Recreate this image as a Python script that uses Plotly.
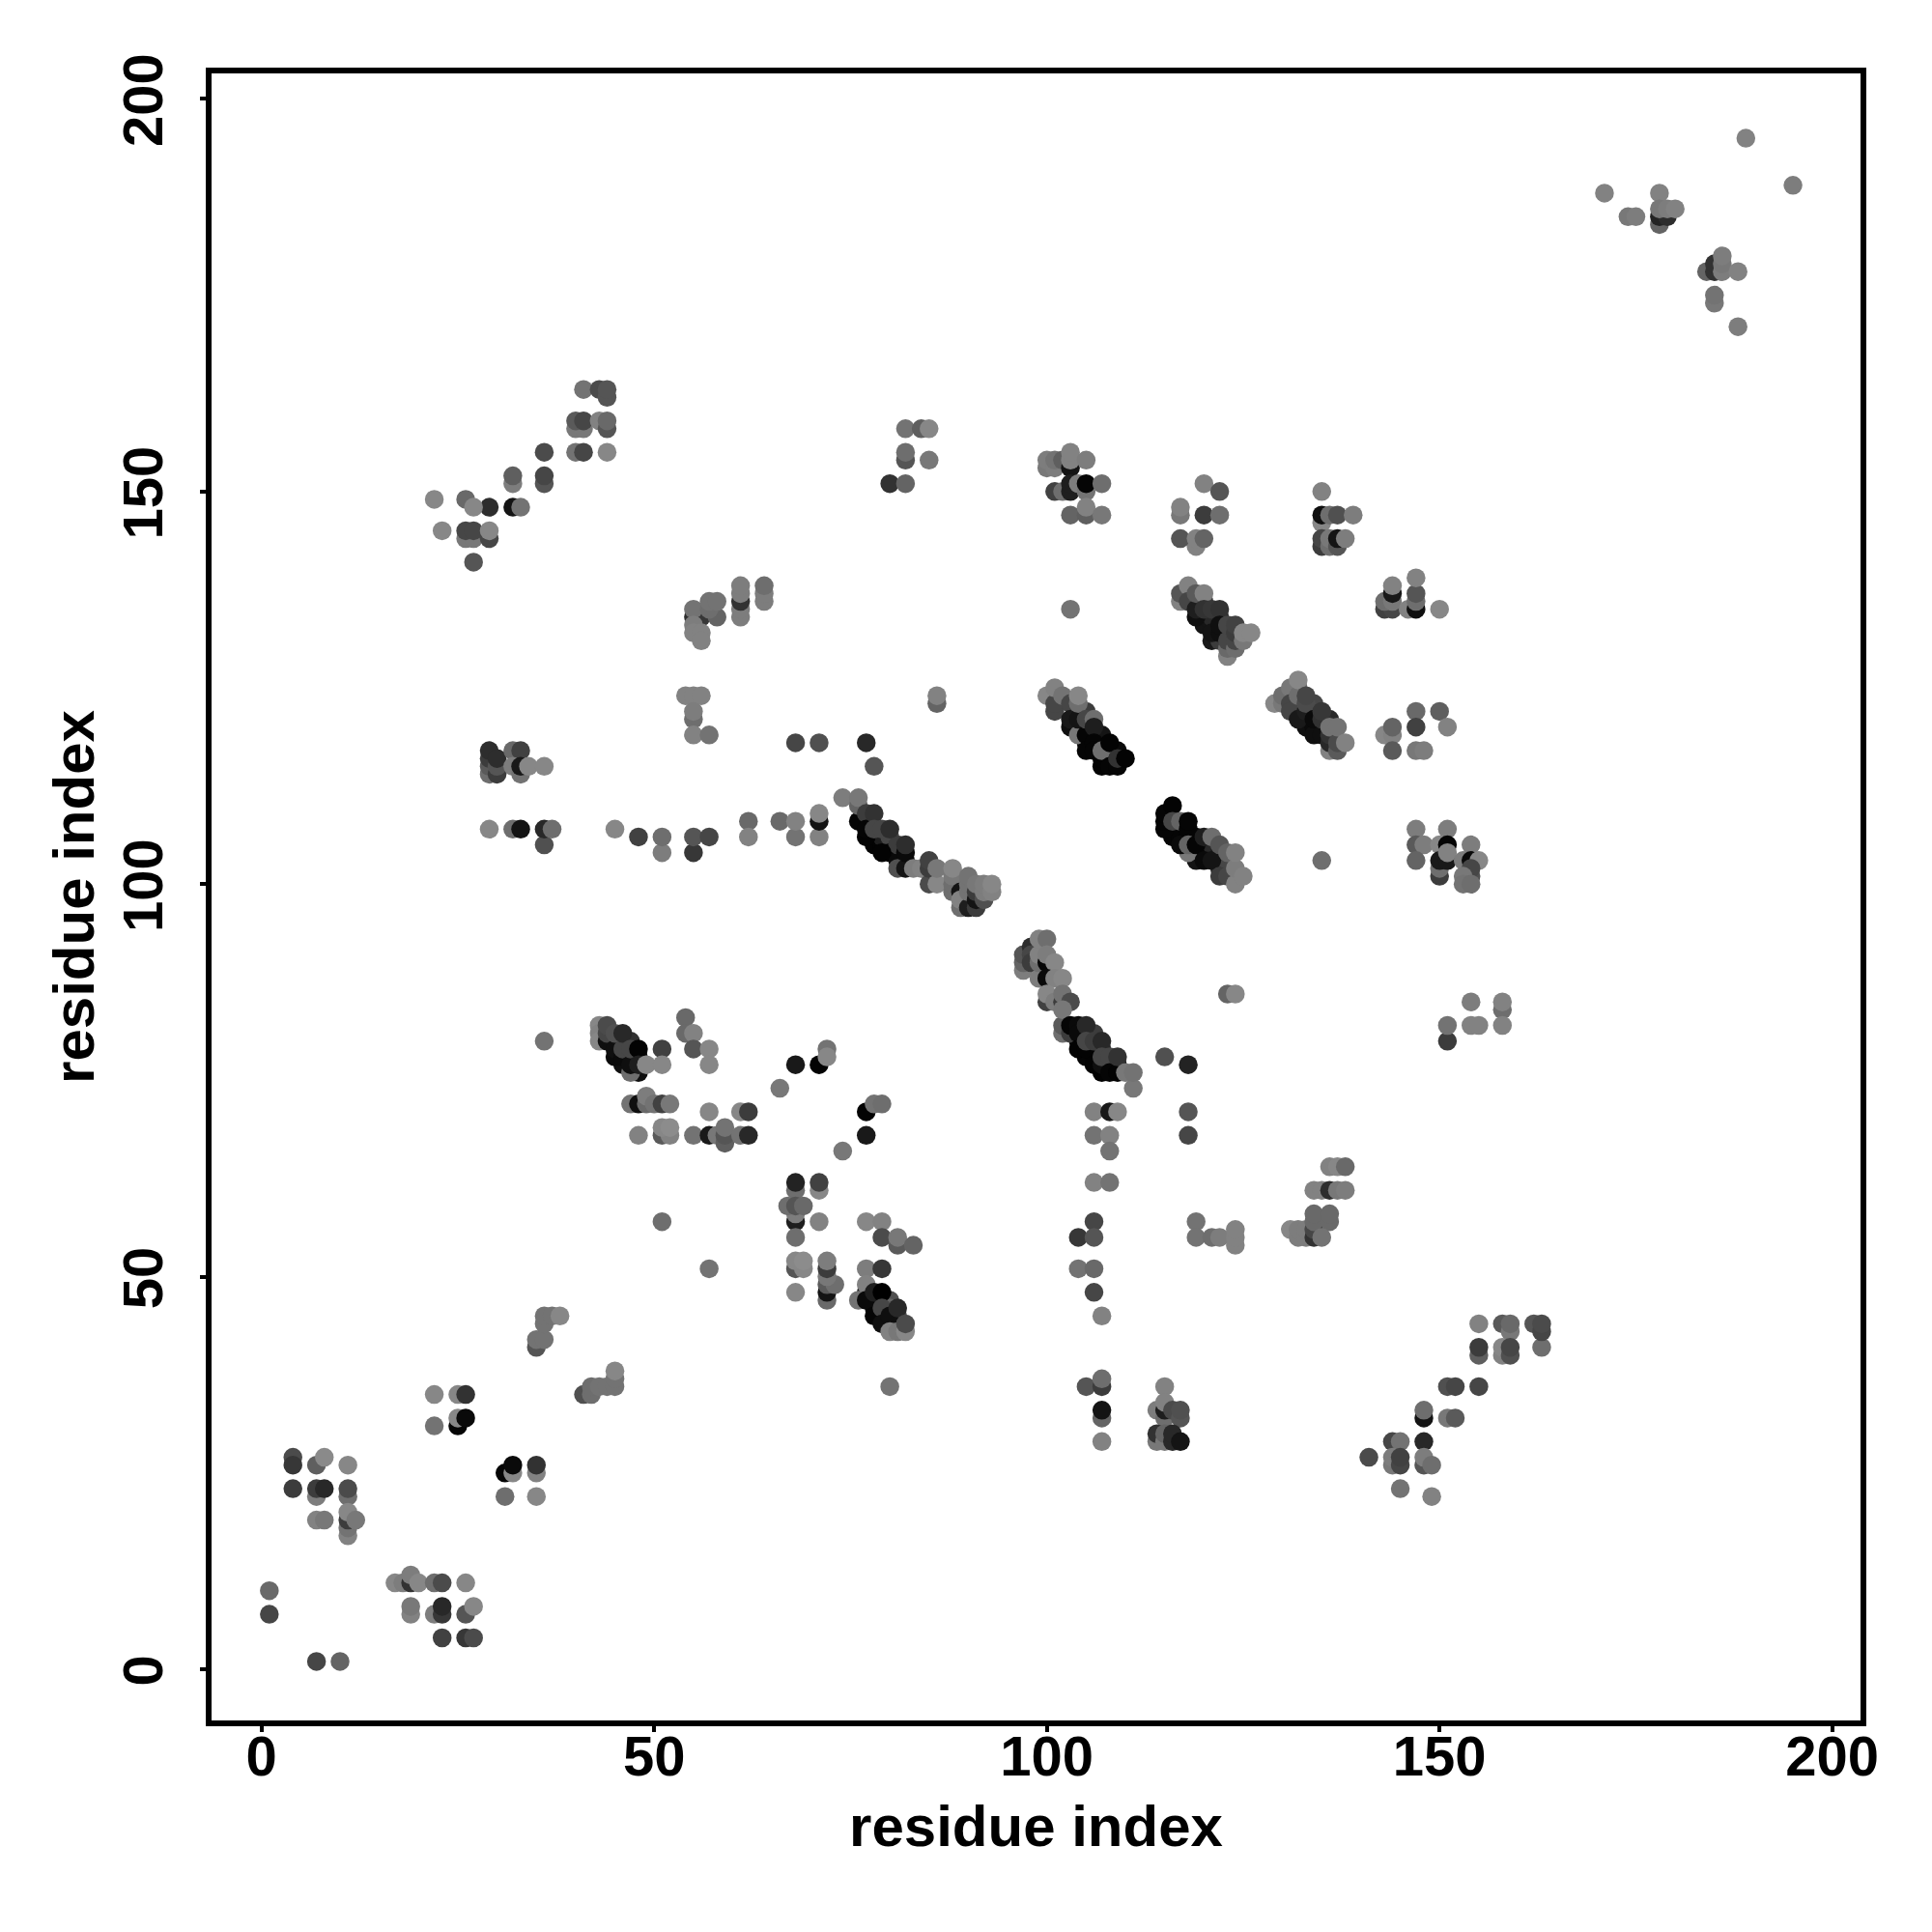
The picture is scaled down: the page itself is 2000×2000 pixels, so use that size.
import plotly.graph_objects as go

# (residue i, residue j, shade), in drawing order
band_under = [(77,108,5),(78,106,3),(78,105,3),(79,105,3),(79,106,30),(80,105,30),(80,106,70),(80,104,3),(81,104,5),(81,103,10),(81,105,60),(82,103,10),
(116,107,5),(116,106,5),(117,107,5),(117,106,5),(118,106,5),(119,106,10),(119,104,5),(120,105,5),(120,104,10),(121,104,10),(121,105,40),(122,104,30),(122,103,40),(122,102,40),(123,102,60),(123,103,70),(119,103,20),
(120,134,15),(120,133,20),(121,133,20),(120,136,60),(121,134,40),(122,134,40),(123,132,30),(121,131,25),(122,131,60),
(104,120,10),(105,120,10),(104,122,50),(105,122,60),(105,118,5),(106,119,5),(107,118,5),(107,119,20),(108,117,5),(108,116,5),(109,117,10),
(132,122,15),(132,123,50),(133,121,10),(133,120,15),(134,120,10),(134,122,40),(135,120,20),(136,121,40),(132,125,110),(131,124,90),(134,123,70),
(104,80,5),(105,78,5),(106,78,5),(106,79,10),(107,79,40),(107,76,3),(108,77,5),(109,77,20),(105,81,30),(106,81,60),
(77,48,20),(78,46,10),(78,47,10),(79,47,10),(79,45,10),(80,44,15),(81,44,50),(81,45,70),(80,47,80),
(45,80,20),(46,80,15),(47,78,15),(46,77,15),(48,78,15),(47,80,50),(48,76,15)]

low_left = [(1,10,105),(1,7,70),(7,1,70),(10,1,100),
(4,27,75),(4,26,55),(4,23,60),(7,26,95),(8,27,138),(11,26,135),(7,22,125),(7,23,60),(8,23,40),(11,22,110),(11,23,75),
(7,19,130),(8,19,120),(11,17,130),(11,18,115),(11,19,60),(11,20,135),(12,19,120),
(17,11,135),(18,11,125),(19,11,50),(19,12,125),(20,11,135),(22,11,110),(23,11,75),(26,11,135),
(19,7,130),(19,8,120),(22,7,125),(23,7,55),(23,8,40),(26,7,85),(27,8,135),(23,4,65),(26,4,55),(27,4,75),
(22,35,135),(25,35,135),(26,35,50),(22,31,115),(25,31,5),(25,32,135),(26,32,10),
(31,25,5),(32,25,135),(32,26,10),(31,22,110),(35,25,130),(35,26,50),(35,22,135),
(35,41,85),(35,42,115),(36,42,115),(36,44,115),(36,45,115),(37,45,115),(38,45,135),
(41,35,80),(42,35,110),(42,36,110),(43,36,115),(44,36,115),(45,36,115),(45,37,115),(45,38,135)]

mid_left = [(36,80,115),(43,82,135),(43,81,130),(43,80,135),(44,80,15),(44,81,70),(44,82,75),(45,78,10),(45,79,15),(45,81,80),
(47,76,110),(46,78,10),(46,79,70),(46,81,40),(47,77,15),(47,79,70),(48,79,3),(48,77,30),(49,77,135),(51,79,65),(51,77,135),
(54,83,105),(54,81,105),(55,81,130),(55,79,85),(57,79,135),(57,77,135),
(68,77,25),(71,77,3),(72,79,115),(72,78,135),(66,74,120),
(47,72,115),(48,72,15),(49,72,105),(49,73,125),(50,72,115),(51,72,65),(52,72,120),(57,71,135),(61,71,135),(62,71,60),
(48,68,130),(51,68,90),(52,68,130),(51,69,135),(52,69,140),(55,68,115),(57,68,25),(58,68,120),(59,67,95),(59,68,85),(59,69,115),(61,68,115),(62,68,40),
(74,66,120),(68,61,110),(68,62,35),(71,61,135),(71,62,65),(68,57,30),(68,58,125),(67,59,110),(68,59,85),(69,59,105),(68,55,110),(71,57,130),(57,51,115),(51,57,110),
(68,51,85),(69,51,135),(68,52,135),(69,52,140),(72,47,105),(72,48,20),(72,49,90),(73,49,110),(72,50,120),(72,51,60),(72,52,125),(68,48,135)]

lower_mid = [(77,71,3),(78,72,115),(79,72,110),(77,68,25),(77,57,135),(79,57,130),(79,55,75),(81,54,90),(81,55,120),(83,54,100),
(77,51,125),(79,51,55),(77,49,130),(76,47,115),(77,47,10),(80,46,100),(78,48,30),(79,48,0),(78,45,5),(79,46,70),(79,44,15),(80,45,15),
(80,43,130),(81,43,120),(82,43,135),(81,46,40),(82,44,75),(80,36,115),
(105,36,85),(107,36,60),(107,37,110),(107,32,100),(107,33,20),(107,29,130),(115,36,130),(114,33,125),(115,32,110),(115,33,30),(115,34,130),(116,33,75),(117,32,85),(117,33,80),
(114,29,120),(114,30,50),(115,29,120),(115,30,100),(116,29,40),(116,30,40),(117,29,20)]

center_diag = [(97,89,125),(97,90,100),(97,91,85),(98,92,45),(98,91,70),(98,90,60),(99,88,125),(99,90,110),(99,91,130),(99,93,130),(100,93,110),(100,90,5),(100,91,125),(101,90,135),(100,88,10),(101,88,130),(102,88,135),
(100,85,65),(100,86,135),(101,85,125),(102,85,60),(102,86,115),(103,85,75),(102,81,110),(102,82,90),(102,84,120),
(103,81,60),(103,82,5),(104,82,10),(104,81,10),(105,82,40),(104,79,3),(105,79,3),(105,80,70),(106,80,60),(107,80,40),(106,77,3),(107,77,15),(107,78,70),(108,78,70),(108,76,5),(109,76,3),(109,78,50),(111,74,120),(110,76,120),(111,76,115),
(115,78,80),(118,77,35),(106,71,130),(108,71,25),(109,71,135),(106,68,115),(108,68,130),(108,66,115),(106,62,130),(108,62,115),(118,71,85),(118,68,70),
(106,57,70),(104,55,55),(106,55,85),(104,51,115),(106,51,105),(106,48,70),(107,45,130),
(119,57,115),(119,55,115),(121,55,110),(122,55,125),(124,54,130),(124,55,130),(124,56,130),(123,86,100),(124,86,135)]

diag_a = [(117,136,130),(117,137,85),(118,138,130),(118,136,70),(119,134,15),(119,135,30),(119,137,90),(120,137,130),(120,135,50),(121,135,55),(122,135,50),(121,132,20),(122,132,15),(122,133,15),
(123,129,130),(123,130,105),(123,131,70),(123,133,70),(124,130,110),(124,131,70),(124,132,60),(124,133,65),(125,131,120),(125,132,135),(126,132,135)]

diag_b = [(100,124,135),(101,122,70),(101,123,70),(101,125,130),(102,124,115),(103,123,70),(103,120,15),(103,121,25),(104,119,120),(104,121,20),(104,123,110),(104,124,135),(105,119,5),(105,117,5),(105,121,70),(106,121,110),(106,120,30),(106,118,5),(106,117,5),
(107,115,3),(107,116,3),(107,117,110),(108,118,3),(108,115,5),(109,115,5),(109,116,50),(110,116,3)]

diag_c = [(129,123,135),(130,123,120),(130,124,110),(131,125,120),(131,123,70),(131,122,70),(132,121,25),(132,124,110),(132,126,135),(133,122,30),(133,123,75),(133,124,70),(134,119,15),(134,121,10),(135,119,15),(135,121,50),(135,122,55),
(136,117,130),(136,118,40),(136,119,50),(136,120,115),(137,117,90),(137,118,75),(137,120,115),(138,118,130)]

diag_d = [(115,107,5),(115,108,5),(115,109,5),(116,110,3),(116,108,70),(117,108,100),(118,104,120),(117,105,10),(118,107,5),(118,108,5),(118,105,100),(119,105,5),(120,103,10),(121,103,20),(120,106,30),(121,106,110),(122,101,60),(122,105,85),
(123,101,70),(123,104,100),(124,100,130),(124,102,125),(124,104,130),(125,101,130)]

right_blocks = [(143,135,65),(144,135,70),(143,136,110),(144,136,120),(144,137,25),(144,138,130),(146,135,130),(147,135,15),(147,136,110),(147,137,85),(147,139,130),(150,135,135),
(147,122,105),(150,122,95),(143,119,135),(144,119,130),(144,120,100),(147,120,65),(151,120,130),(144,117,90),(147,117,120),(148,117,125),
(147,107,125),(151,107,125),(147,105,90),(148,105,125),(150,105,135),(151,105,5),(154,105,125),(147,103,100),(150,101,60),(150,102,110),(150,103,25),(151,103,25),(151,104,130),
(153,103,125),(154,103,10),(155,103,135),(154,101,80),(154,102,70),(153,101,120),(153,100,115),(154,100,110),(135,103,110),
(151,80,60),(151,82,115),(154,85,125),(154,82,130),(155,82,130),(158,84,110),(158,82,130),(158,85,130)]

upper_mid = [(100,153,120),(100,154,125),(101,153,125),(101,154,115),(102,154,95),(103,153,20),(103,154,130),(103,155,130),(105,154,125),
(101,150,65),(102,150,110),(103,150,30),(103,151,30),(104,151,125),(105,150,115),(105,151,5),(107,151,110),(103,147,100),(105,147,95),(105,148,130),(107,147,120),
(120,151,130),(122,150,85),(117,147,120),(117,148,130),(120,147,60),(122,147,110),(119,143,130),(117,144,85),(119,144,130),(120,144,100),
(135,150,130),(135,146,135),(135,147,15),(136,147,110),(137,147,80),(139,147,125),(135,143,60),(135,144,70),(136,143,110),(136,144,120),(137,143,85),(137,144,20),(138,144,125),(103,135,115)]

upper_left = [(41,163,115),(43,163,75),(44,162,85),(44,163,85),(40,158,120),(41,158,120),(40,159,90),(41,159,70),(43,159,130),(44,158,85),(44,159,105),(40,155,115),(41,155,70),(44,155,135),
(36,155,75),(36,151,85),(36,152,70),(32,151,125),(32,152,95),(29,148,45),(32,148,20),(33,148,115),(26,149,105),(27,148,135),(22,149,135),(23,145,135),
(26,144,120),(27,144,120),(26,145,70),(27,145,70),(29,144,70),(29,145,135),(27,141,85)]

row_107 = [(29,107,135),(32,107,110),(33,107,20),(36,105,80),(36,107,40),(37,107,110),(45,107,135),(48,106,65),(51,104,125),(51,106,110),(55,104,55),(55,106,85),(57,106,70),
(62,108,105),(62,106,130),(66,108,105),(68,106,115),(68,108,130),(71,106,130),(71,108,20),(71,109,135),
(29,114,110),(29,115,90),(29,116,60),(29,117,45),(30,114,60),(30,115,85),(30,116,45),(32,117,105),(33,117,65),(32,115,125),(33,114,115),(33,115,25),(34,115,135),(36,115,135)]

mid_blocks = [(54,124,130),(55,124,130),(56,124,130),(55,121,110),(55,122,125),(55,119,130),(57,119,115),
(55,134,45),(56,134,55),(55,135,115),(55,133,125),(55,132,130),(56,132,130),(56,131,130),(58,134,100),(57,135,110),(57,136,115),(58,136,115),
(61,134,125),(61,135,125),(61,136,50),(61,137,125),(61,138,125),(64,136,125),(64,137,125),(64,138,110),
(82,158,115),(84,158,95),(85,158,135),(82,154,85),(82,155,110),(85,154,120),(80,151,50),(82,151,100),
(86,123,100),(86,124,130),(68,118,70),(71,118,80),(77,118,40),(78,115,85)]

diag_e = [(74,111,125),(76,108,5),(76,110,100),(76,111,120),(77,109,60),(77,106,3),(77,107,5),(78,109,50),(78,107,70),(79,104,3),(79,107,70),(80,107,45),(81,102,80),(82,102,20),(82,104,10),(82,105,45),(83,102,125),(84,102,130),
(85,100,75),(85,102,60),(85,103,65),(86,100,135),(86,102,120),(88,99,110),(88,100,110),(88,101,120),(88,102,135),(89,97,110),(89,99,20),(89,98,130),(90,97,30),(90,99,115),(90,100,115),(90,101,115),
(91,97,60),(91,98,20),(91,99,60),(91,100,120),(92,98,80),(92,99,125),(92,100,125),(93,99,130),(93,100,135)]

lower_right = [(136,64,130),(137,64,135),(138,64,105),(134,61,130),(135,61,130),(136,61,45),(137,61,120),(138,61,125),
(131,56,135),(132,55,125),(132,56,125),(133,55,125),(133,56,125),(134,55,50),(134,56,70),(134,57,105),(134,58,105),(136,57,105),(136,58,105),(135,55,115),
(155,44,130),(158,44,90),(159,43,120),(159,44,105),(162,44,85),(163,41,110),(163,43,70),(163,44,75),(155,40,95),(155,41,60),(158,40,130),(158,41,135),(159,40,80),(159,41,70),
(151,36,80),(152,36,70),(155,36,70),(148,32,20),(148,33,110),(151,32,120),(152,32,90),
(144,29,70),(145,29,115),(148,29,40),(141,27,75),(144,26,120),(144,27,125),(145,26,70),(145,27,65),(148,26,85),(148,27,125),(149,26,110),(145,23,115),(149,22,130)]

top_right = [(189,195,130),(195,189,125),(171,188,130),(178,188,130),(174,185,120),(175,185,125),(178,184,100),(178,185,35),(179,185,45),(178,186,120),(179,186,125),(180,186,130),
(184,178,100),(185,178,50),(185,179,50),(186,178,125),(186,179,120),(186,180,125),(188,178,130),(185,174,120),(185,175,115),(188,171,125)]

regions = [band_under, low_left, mid_left, lower_mid, center_diag, diag_a, diag_b, diag_c, diag_d, right_blocks,
           upper_mid, upper_left, row_107, mid_blocks, diag_e, lower_right, top_right]
contacts = [p for r in regions for p in r]
res_i = [p[0] for p in contacts]
res_j = [p[1] for p in contacts]
shade = [p[2] for p in contacts]

tick_vals = [0, 50, 100, 150, 200]
FONT = "Liberation Sans"

fig = go.Figure(go.Scatter(
    x=res_i, y=res_j, mode="markers", cliponaxis=False,
    marker=dict(size=19.5, color=shade, cmin=0, cmax=255, showscale=False,
                colorscale=[[0, "rgb(0,0,0)"], [1, "rgb(255,255,255)"]], line=dict(width=0)),
))

W = H = 2000
PAGE = 8  # the page's own margin
L, R, T, B = 219 - PAGE, 1926 - PAGE, 75.5 - PAGE, 1781 - PAGE
axis = dict(showline=True, mirror=True, linewidth=5.5, linecolor="black", showgrid=False, zeroline=False,
            ticks="outside", ticklen=6, tickwidth=3.5, tickcolor="black", tickvals=tick_vals,
            tickfont=dict(family=FONT, size=58, color="black", weight="bold"))
fig.update_layout(
    width=W, height=H, paper_bgcolor="white", plot_bgcolor="white", showlegend=False,
    margin=dict(l=L, r=W - R, t=T, b=H - B, autoexpand=False),
    font=dict(family=FONT, color="black"),
    xaxis=dict(axis, range=[-6.36, 203.6], ticklabelstandoff=-24,
               title=dict(text="<b>residue index</b>", standoff=22,
               font=dict(family=FONT, size=60, color="black"))),
    yaxis=dict(axis, range=[-6.52, 203.25], tickangle=-90, ticklabelstandoff=16, ticklabelshift=10,
               title=dict(text="<b>residue index</b>", standoff=0,
               font=dict(family=FONT, size=60, color="black"))),
)
fig.write_html("out.html")
